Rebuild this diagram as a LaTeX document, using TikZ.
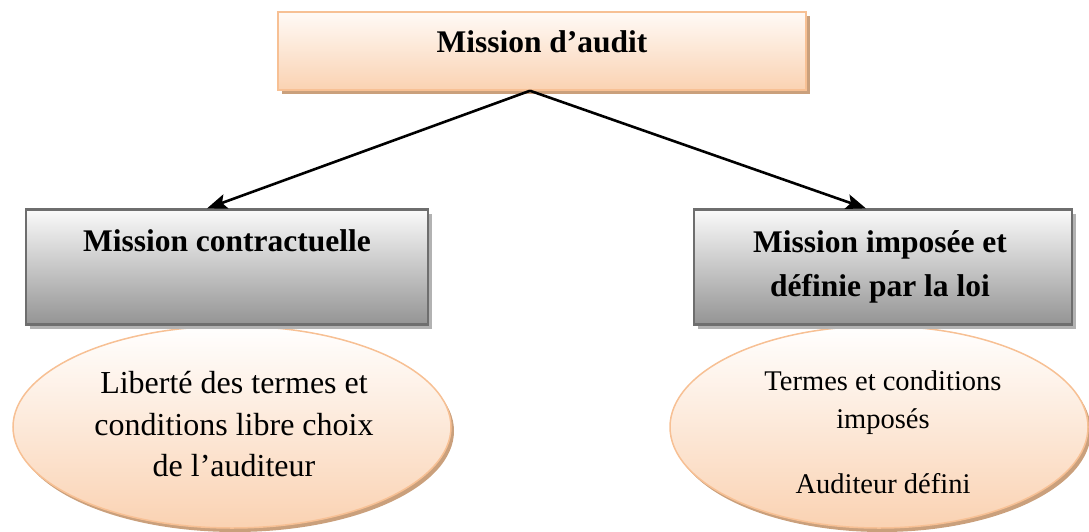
\documentclass[tikz,border=0pt]{standalone}
\usepackage{fontspec}
\setmainfont{Liberation Serif}
\usetikzlibrary{shapes.geometric,shadows,arrows.meta}

\definecolor{peachline}{RGB}{247,192,148}
\definecolor{peachfill}{RGB}{250,210,178}
\definecolor{peachtop}{RGB}{255,250,246}
\definecolor{tanshadow}{RGB}{202,160,124}
\definecolor{greyline}{RGB}{110,110,110}
\definecolor{greyfill}{RGB}{148,148,148}
\definecolor{greyshadow}{RGB}{178,178,178}

\begin{document}
\begin{tikzpicture}[x=1pt,y=-1pt,
  peachbox/.style={rectangle, draw=peachline, line width=1.5pt,
    top color=peachtop, bottom color=peachfill, inner sep=0pt,
    drop shadow={shadow xshift=4pt, shadow yshift=-4pt, fill=tanshadow, opacity=1}},
  greybox/.style={rectangle, draw=greyline, line width=2.2pt,
    top color=white!98!black, bottom color=greyfill, inner sep=0pt,
    minimum width=380pt, minimum height=115pt,
    drop shadow={shadow xshift=4pt, shadow yshift=-4pt, fill=greyshadow, opacity=1}},
  peachoval/.style={ellipse, draw=peachline, line width=1.5pt,
    top color=white, bottom color=peachfill, inner sep=0pt,
    drop shadow={shadow xshift=3pt, shadow yshift=-4pt, fill=tanshadow, opacity=1}},
  headtext/.style={anchor=base, inner sep=0pt, font=\fontsize{31.5}{36}\selectfont\bfseries},
  bodytext/.style={anchor=base, inner sep=0pt},
  link/.style={line width=2.6pt, -{Stealth[length=20pt,width=15pt,inset=4pt]}}
]
\useasboundingbox (0,0) rectangle (1089,531);

% ovals sit behind the grey boxes
\node[peachoval, minimum width=438pt, minimum height=202pt] (freeoval) at (232,427) {};
\node[peachoval, minimum width=418pt, minimum height=202pt] (lawoval) at (879,427) {};

% boxes
\node[peachbox, minimum width=528pt, minimum height=78pt] (audit) at (542,51) {};
\node[greybox, minimum width=402pt] (contract) at (227,267) {};
\node[greybox, minimum width=378pt] (law) at (883,267) {};

% labels
\node[headtext] (auditT) at (542,52) {Mission d’audit};
\node[headtext] (contractT) at (227,251) {Mission contractuelle};
\node[headtext] (lawT1) at (880,252) {Mission imposée et};
\node[headtext] (lawT2) at (880,296) {définie par la loi};

\begin{scope}[bodytext/.append style={font=\fontsize{32}{38}\selectfont}]
\node[bodytext] (free1) at (234,393) {Liberté des termes et};
\node[bodytext] (free2) at (234,435) {conditions libre choix};
\node[bodytext] (free3) at (234,476) {de l’auditeur};
\end{scope}
\begin{scope}[bodytext/.append style={font=\fontsize{28.5}{34}\selectfont}]
\node[bodytext] (law1) at (883,390) {Termes et conditions};
\node[bodytext] (law2) at (883,428) {imposés};
\node[bodytext] (law3) at (883,493) {Auditeur défini};
\end{scope}

% connectors
\coordinate (fork) at (audit.south -| 530,0);
\coordinate (contractIn) at (contract.north -| 207,0);
\coordinate (lawIn) at (law.north -| 866,0);
\draw[link] (fork) -- (contractIn);
\draw[link] (fork) -- (lawIn);
\end{tikzpicture}
\end{document}
